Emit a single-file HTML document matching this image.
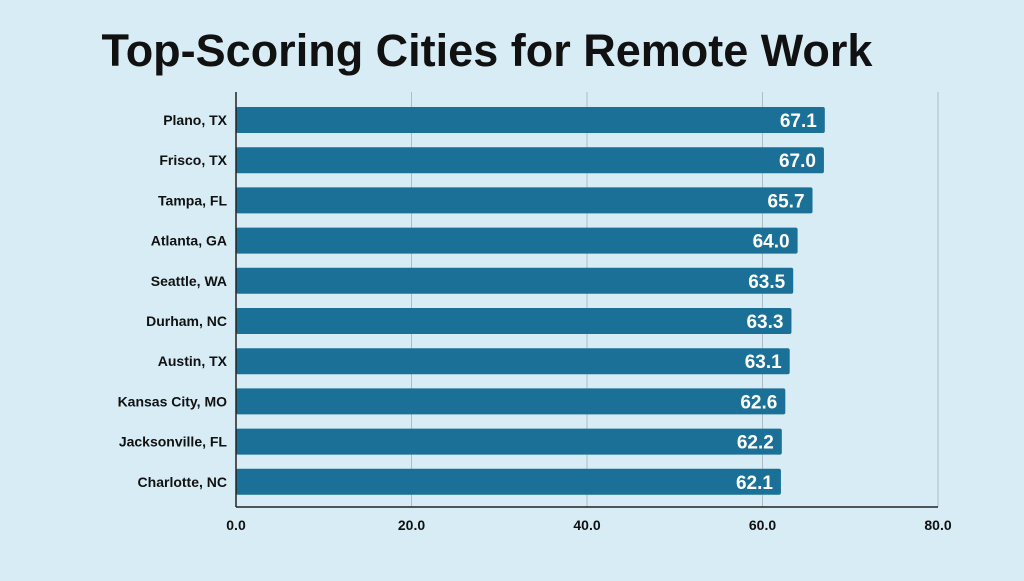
<!DOCTYPE html>
<html><head><meta charset="utf-8"><style>
body{margin:0;width:1024px;height:576px;background:#d7ecf5;font-family:"Liberation Sans",sans-serif;overflow:hidden}
</style></head><body>
<svg width="1024" height="576">
<text x="487" y="66" text-anchor="middle" font-size="45" font-weight="bold" fill="#111">Top-Scoring Cities for Remote Work</text>
<g id="grid"></g><g id="bars"></g><g id="axis"></g>
</svg>
<script>
const categories=["Plano, TX","Frisco, TX","Tampa, FL","Atlanta, GA","Seattle, WA","Durham, NC","Austin, TX","Kansas City, MO","Jacksonville, FL","Charlotte, NC"];
const values=[67.1,67.0,65.7,64.0,63.5,63.3,63.1,62.6,62.2,62.1];
const ticks=[0,20,40,60,80];
const NS="http://www.w3.org/2000/svg";
const x0=236,x1=938,xmax=80,yTop=92,yBottom=507,y0=107,step=40.2,bh=26;
const X=v=>x0+(x1-x0)*v/xmax;
const Y=i=>y0+i*step;
function mk(t,a,p){const e=document.createElementNS(NS,t);for(const k in a)e.setAttribute(k,a[k]);p.appendChild(e);return e;}
const grid=document.getElementById('grid'),bars=document.getElementById('bars'),axis=document.getElementById('axis');
ticks.forEach(t=>{
 if(t>0){const l=mk('line',{x1:X(t),x2:X(t),y1:yTop,y2:yBottom,stroke:'#b0bcc4','stroke-width':1},grid);
 
 }
 const tx=mk('text',{x:X(t),y:530,'text-anchor':'middle','font-size':14,'font-weight':'bold',fill:'#111'},axis);
 tx.textContent=t.toFixed(1);
 
 
});
categories.forEach((c,i)=>{
 const r=mk('rect',{x:x0,y:Y(i),width:X(values[i])-x0,height:bh,rx:2,fill:'#1a7096'},bars);
 
 
 const v=mk('text',{x:X(values[i])-8,y:Y(i)+bh/2+7,'text-anchor':'end','font-size':19,'font-weight':'bold',fill:'#fff'},bars);
 v.textContent=values[i].toFixed(1);
 
 
 const lb=mk('text',{x:227,y:Y(i)+bh/2+5,'text-anchor':'end','font-size':14,'font-weight':'bold',fill:'#111'},axis);
 lb.textContent=c;
 
 
});
const ya=mk('line',{x1:x0,x2:x0,y1:yTop,y2:yBottom,stroke:'#222','stroke-width':1.5},axis);


const xa=mk('line',{x1:x0,x2:x1,y1:yBottom,y2:yBottom,stroke:'#222','stroke-width':1.5},axis);


</script>
</body></html>
